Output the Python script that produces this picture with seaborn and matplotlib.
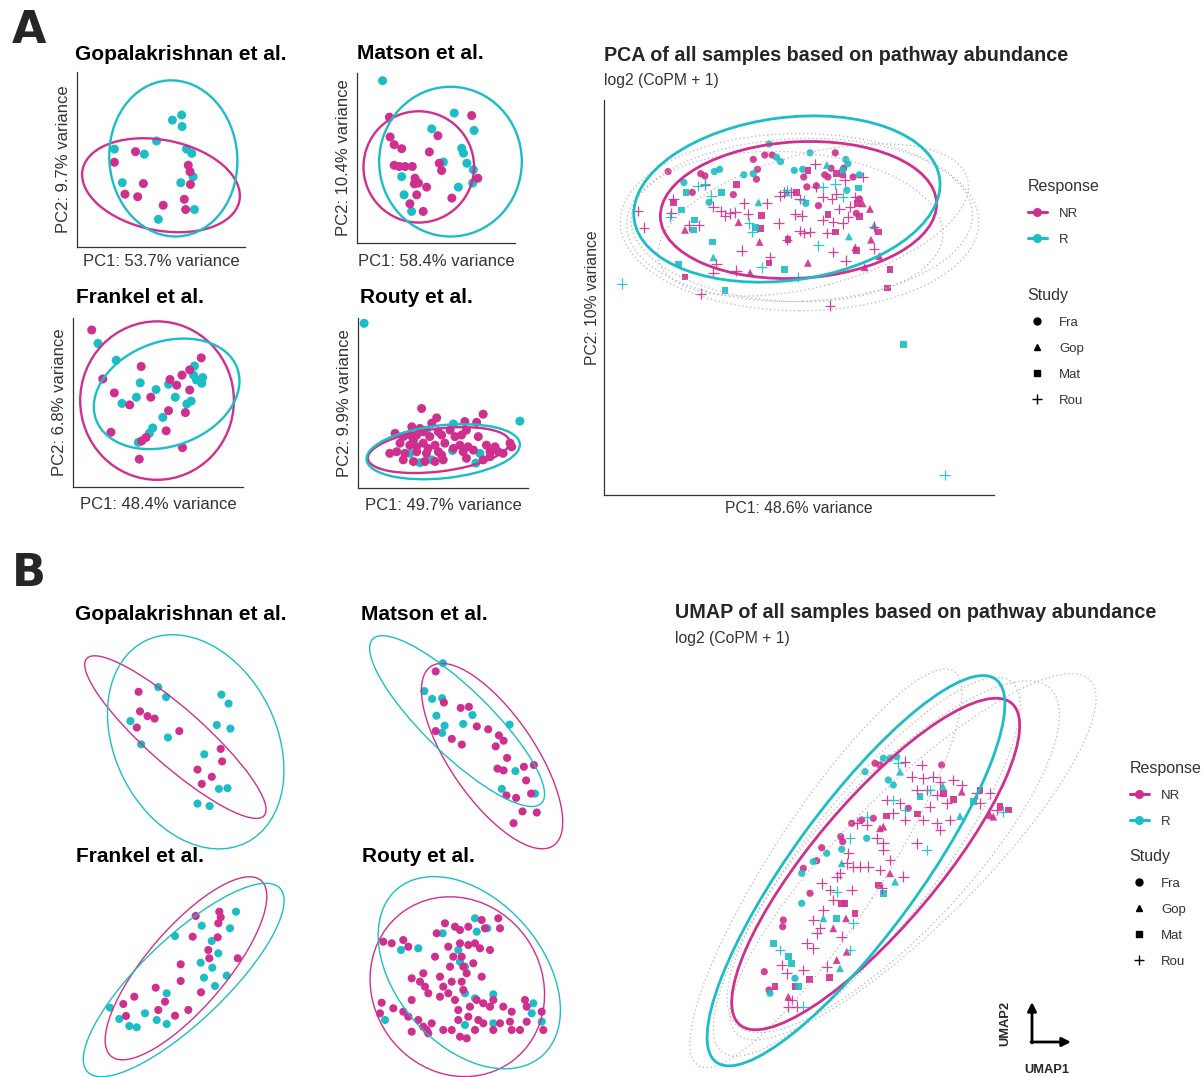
import matplotlib

matplotlib.use("Agg")
import matplotlib.pyplot as plt
import pandas as pd
import seaborn as sns
from matplotlib.lines import Line2D
from matplotlib.patches import Ellipse, FancyArrowPatch

W, H = 1204, 1077
NR_COLOR = "#CF2F8E"
R_COLOR = "#1CBDC7"
PALETTE = {"NR": NR_COLOR, "R": R_COLOR}
STUDY_MARKERS = {"Fra": "o", "Gop": "^", "Mat": "s", "Rou": "+"}
STUDY_SIZES = {"Fra": 27, "Gop": 32, "Mat": 23, "Rou": 58}
TXT = "#333333"

# ---------------------------------------------------------------- panel A data
gop_pca_nr = [(-1.15, 0.23), (-0.67, 0.48), (0.53, 0.16), (0.57, 0.01), (-0.49, -0.27),
              (0.58, -0.29), (-0.91, -0.52), (-0.62, -0.58), (-0.04, -0.78), (0.44, -0.64),
              (0.47, -0.88)]
gop_pca_r = [(0.17, 1.22), (0.38, 1.34), (0.39, 1.07), (-0.19, 0.73), (-1.15, 0.54),
             (-0.47, 0.42), (0.49, 0.54), (0.61, 0.44), (0.64, -0.11), (-0.97, -0.25),
             (0.36, -0.25), (0.67, -0.88), (-0.15, -1.11)]
gop_pca_ell = {"NR": (-0.09, -0.31, 3.64, 2.12, -12), "R": (0.19, 0.32, 2.91, 3.67, 4)}

mat_pca_nr = [(-1.19, 1.16), (1.22, 1.20), (-1.17, 0.67), (0.23, 0.70), (-1.05, 0.48),
              (-0.83, 0.38), (-0.02, 0.30), (-1.05, -0.03), (-0.90, -0.06), (-0.73, -0.06),
              (-0.52, -0.06), (0.27, 0.02), (0.34, -0.16), (-0.44, -0.35), (-0.34, -0.47),
              (-0.46, -0.49), (-0.10, -0.57), (-0.39, -0.76), (1.40, -0.35), (0.64, -0.84),
              (-0.59, -0.98), (-0.20, -1.17)]
mat_pca_r = [(-1.39, 2.06), (0.71, 1.26), (1.29, 0.83), (0.05, 0.87), (0.93, 0.39),
             (0.98, 0.27), (0.39, 0.05), (1.08, 0.02), (1.27, -0.14), (1.25, -0.47),
             (-0.83, -0.31), (0.83, -0.57), (-0.76, -0.76), (-0.54, -1.17)]
mat_pca_ell = {"NR": (-0.33, -0.07, 3.24, 2.75, 0), "R": (0.60, 0.06, 4.18, 3.70, 0)}

fra_pca_nr = [(-1.39, 1.39), (-1.16, 0.37), (-0.92, 0.08), (-0.36, 0.63), (-0.60, -0.17),
              (-0.16, -0.01), (0.24, 0.36), (0.38, 0.24), (0.49, 0.45), (0.65, 0.56),
              (0.89, 0.81), (0.65, 0.14), (0.21, -0.29), (0.56, -0.33), (-0.99, -0.74),
              (0.16, -0.71), (-0.35, -0.92), (-0.26, -0.85), (0.50, -1.06), (-0.40, -1.30)]
fra_pca_r = [(-1.26, 1.11), (-0.88, 0.76), (-0.38, 0.29), (-0.05, 0.15), (0.21, 0.26),
             (-0.76, -0.14), (-0.46, -0.01), (0.35, -0.01), (0.75, 0.64), (0.73, 0.45),
             (0.79, 0.35), (0.92, 0.40), (0.90, 0.28), (0.68, -0.09), (0.59, -0.15),
             (0.09, -0.43), (-0.12, -0.65), (-0.19, -0.76), (-0.42, -0.95)]
fra_pca_ell = {"NR": (-0.03, -0.08, 3.2, 3.3, 0), "R": (0.17, 0.06, 3.13, 2.17, 20)}

rou_pca_nr = [(-0.45, 0.92), (-0.08, 0.69), (1.06, 0.78), (0.61, 0.60), (0.90, 0.58),
              (-0.69, 0.47), (-0.49, 0.43), (-1.10, 0.31), (-0.90, 0.23), (-0.57, 0.27),
              (-0.25, 0.23), (0.04, 0.27), (0.53, 0.27), (0.37, 0.23), (-0.98, 0.07),
              (-0.74, 0.02), (-0.41, 0.07), (-0.12, 0.02), (0.12, 0.07), (0.49, 0.02),
              (0.69, -0.02), (1.14, 0.02), (1.35, -0.02), (1.72, 0.07), (1.76, -0.02),
              (-1.06, -0.14), (-0.86, -0.18), (-0.57, -0.14), (-0.33, -0.18), (-0.04, -0.14),
              (0.04, -0.22), (0.57, -0.14), (0.82, -0.10), (1.23, -0.14), (1.43, -0.14),
              (-0.90, -0.34), (-0.65, -0.38), (-0.37, -0.38), (-0.12, -0.38), (0.08, -0.34),
              (0.65, -0.30), (1.06, -0.34), (1.23, -0.26), (-0.65, 0.15), (0.25, 0.39),
              (0.65, 0.39), (-0.04, 0.35), (-0.41, 0.35), (0.33, -0.06), (-0.29, -0.06),
              (-0.57, -0.02), (1.55, -0.18), (-0.74, 0.27), (0.94, 0.23), (-1.23, -0.18),
              (-0.20, 0.56)]
rou_pca_r = [(-1.86, 3.01), (1.96, 0.61), (0.33, 0.54), (0.31, -0.11), (-0.74, -0.18),
             (-0.49, -0.41), (-0.20, -0.34), (0.88, -0.42), (0.98, -0.18), (-0.33, 0.39)]
rou_pca_ell = {"NR": (-0.03, -0.10, 3.5, 1.05, 7), "R": (0.08, -0.14, 3.78, 1.3, 6)}

# all-sample PCA, one list per study and response
pca_fra_nr = [(-1.14, 1.37), (-0.83, 1.35), (-0.79, 1.33), (-0.33, 1.48), (-0.22, 1.52),
              (-0.15, 1.52), (-0.29, 1.39), (-0.30, 1.30), (-0.52, 1.16), (-0.91, 1.18),
              (0.15, 1.32), (0.18, 1.23), (0.45, 1.54), (0.41, 1.40), (0.35, 1.34),
              (0.27, 1.24), (0.29, 1.06), (0.38, 1.32), (0.52, 1.34), (0.53, 1.40),
              (0.62, 1.32), (0.68, 1.12), (0.65, 0.99)]
pca_fra_r = [(-0.99, 1.27), (-0.65, 1.39), (-0.70, 1.37), (-0.42, 1.34), (-0.33, 1.35),
             (-0.18, 1.62), (-0.11, 1.50), (-0.07, 1.46), (0.21, 1.54), (0.06, 1.38),
             (0.14, 1.39), (0.55, 1.48), (0.57, 1.44), (0.52, 1.38), (0.68, 1.34),
             (0.17, 1.08), (-0.75, 1.09), (0.56, 1.20)]
pca_gop_nr = [(-0.98, 0.84), (-0.47, 0.91), (-0.27, 0.73), (0.79, 0.75), (0.64, 0.68),
              (0.19, 0.54), (-0.36, 0.45), (0.73, 0.50), (0.87, 0.60), (0.71, 1.08),
              (0.78, 1.03)]
pca_gop_r = [(-0.28, 1.09), (0.37, 1.43), (-0.71, 0.59), (0.58, 0.78), (0.82, 0.88),
             (-0.01, 1.18)]
pca_mat_nr = [(-0.49, 1.25), (-1.09, 1.09), (0.19, 1.38), (0.08, 1.18), (-0.25, 0.97),
              (-0.26, 0.85), (0.00, 0.75), (0.45, 0.82), (0.38, 0.98), (0.66, 1.08),
              (0.65, 0.65), (0.86, 0.82), (0.97, 0.48), (0.95, 0.31), (0.68, 0.96),
              (-0.98, 0.41), (-0.18, 0.54), (0.46, 1.35)]
pca_mat_r = [(-0.63, 1.18), (-0.97, 1.18), (-1.01, 1.02), (-0.89, 0.93), (-0.90, 0.84),
             (-0.72, 0.73), (-1.04, 0.53), (-0.60, 0.29), (-0.03, 0.48), (-0.31, 0.86),
             (0.67, 1.22), (1.10, -0.20)]
pca_rou_nr = [(-1.43, 1.01), (-1.37, 0.86), (-1.11, 0.99), (-1.09, 1.12), (-0.94, 0.88),
              (-0.85, 0.88), (-0.79, 1.25), (-0.71, 1.05), (-0.64, 1.01), (-0.55, 0.99),
              (-0.50, 1.00), (-0.42, 1.08), (-0.38, 0.98), (-0.20, 1.08), (-0.09, 0.90),
              (-0.04, 1.18), (0.03, 1.18), (0.11, 1.12), (0.07, 0.98), (0.13, 0.97),
              (0.11, 0.83), (0.21, 0.82), (0.37, 0.81), (0.43, 0.91), (0.52, 0.90),
              (0.57, 0.96), (0.49, 1.03), (0.59, 1.05), (0.46, 1.17), (0.42, 1.12),
              (0.33, 1.14), (0.26, 1.44), (-0.01, 0.75), (0.15, 0.81), (0.43, 0.64),
              (0.55, 0.56), (0.82, 0.87), (0.82, 0.67), (0.71, 1.32), (0.64, 1.14),
              (-0.68, 0.53), (-0.71, 0.45), (-0.49, 0.47), (-0.83, 0.26), (0.40, 0.15),
              (-0.44, 0.65), (-0.60, 0.97), (-0.17, 0.59), (-0.08, 1.15), (0.27, 1.23),
              (0.33, 0.93), (0.54, 1.29)]
pca_rou_r = [(-1.58, 0.35), (-1.12, 0.96), (-0.86, 1.24), (-0.79, 1.26), (-0.73, 1.15),
             (-0.37, 0.90), (-0.34, 0.82), (0.29, 0.70), (-0.01, 1.20), (0.33, 1.23),
             (0.45, 1.26), (0.52, 1.14), (0.10, 0.41), (-0.25, 0.50), (0.15, 1.11),
             (1.49, -1.39)]
pca_ell = {"NR": (0.10, 1.02, 2.63, 1.24, 3), "R": (-0.01, 1.12, 2.93, 1.48, 7)}
pca_study_ell = {"Fra": (0.11, 0.91, 3.41, 1.61, 0), "Gop": (0.11, 0.93, 3.29, 1.48, 2),
                 "Mat": (0.24, 0.93, 3.03, 1.21, 14), "Rou": (-0.01, 0.87, 2.97, 1.36, -3)}

# ---------------------------------------------------------------- panel B data
gop_umap_nr = [(6.86, 14.32), (7.0, 12.36), (7.75, 11.89), (8.46, 11.64), (6.68, 10.75),
               (10.93, 10.39), (15.07, 8.61), (15.21, 7.36), (12.75, 6.54), (14.18, 5.82),
               (13.18, 5.11)]
gop_umap_r = [(8.82, 14.79), (9.61, 13.79), (15.14, 14.04), (15.86, 13.14), (6.04, 11.39),
              (14.68, 11.0), (16.04, 10.64), (7.11, 9.07), (9.79, 9.75), (13.43, 8.07),
              (14.89, 4.61), (15.75, 4.68), (12.75, 3.14), (13.96, 2.89)]
gop_umap_ell = {"NR": (10.54, 9.79, 23.7, 5.64, -41.5), "R": (12.57, 9.32, 22.56, 16.17, -63.3)}

mat_umap_nr = [(9.07, 16.36), (9.89, 13.25), (11.57, 12.71), (12.39, 12.82), (9.07, 10.39),
               (10.68, 9.61), (11.68, 9.04), (13.18, 10.86), (14.32, 10.57), (15.39, 9.96),
               (15.86, 9.43), (15.07, 8.86), (16.21, 7.71), (15.25, 6.64), (15.86, 6.46),
               (17.89, 6.82), (18.89, 7.0), (18.11, 5.46), (18.61, 4.14), (16.14, 3.96),
               (17.11, 3.71), (17.75, 2.36), (19.18, 2.25), (16.86, 1.18)]
mat_umap_r = [(9.79, 17.18), (7.93, 14.39), (8.71, 13.61), (9.71, 13.68), (9.14, 11.93),
              (9.96, 10.93), (9.71, 10.21), (12.75, 12.0), (11.82, 11.11), (16.46, 11.04),
              (17.04, 6.39), (15.68, 4.61), (19.0, 4.14)]
mat_umap_ell = {"NR": (14.71, 7.89, 21.71, 8.5, -55.6), "R": (11.21, 11.39, 23.54, 6.61, -44.2)}

fra_umap_nr = [(12.57, 16.10), (14.93, 16.53), (15.07, 15.97), (14.83, 15.37), (14.77, 13.97),
               (12.27, 14.03), (13.83, 12.70), (13.93, 11.87), (16.77, 11.87), (11.07, 11.27),
               (11.07, 9.60), (8.57, 8.93), (6.43, 8.03), (5.33, 7.30), (5.60, 6.10),
               (9.50, 7.53), (8.83, 6.70), (10.50, 6.13), (11.83, 6.70), (13.10, 8.47)]
fra_umap_r = [(16.60, 16.53), (16.0, 14.87), (13.17, 15.13), (10.50, 14.10), (14.17, 13.60),
              (14.83, 12.37), (13.07, 11.43), (14.23, 10.93), (13.40, 9.93), (14.50, 9.10),
              (15.67, 10.13), (9.67, 8.37), (7.50, 6.37), (8.67, 5.70), (9.67, 5.30),
              (4.93, 5.80), (5.93, 5.10), (6.67, 4.97), (4.0, 6.93)]
fra_umap_ell = {"NR": (11.6, 10.87, 23.1, 7.93, 49.5), "R": (11.37, 9.7, 26.6, 8.37, 43.7)}

rou_umap_nr = [(2.83, 13.53), (3.67, 13.37), (4.83, 13.70), (5.33, 13.03), (9.0, 15.37),
               (8.17, 14.37), (10.0, 15.03), (10.5, 14.70), (11.33, 15.03), (12.67, 15.70),
               (13.0, 14.87), (14.33, 15.87), (14.5, 14.87), (8.0, 12.03), (9.33, 13.03),
               (9.83, 12.03), (10.5, 13.37), (11.33, 13.20), (12.0, 13.37), (12.5, 12.87),
               (13.5, 12.70), (9.5, 11.03), (10.83, 11.03), (11.17, 10.37), (12.67, 10.03),
               (5.67, 9.87), (6.5, 9.53), (6.83, 10.37), (7.0, 9.03), (8.5, 10.03),
               (8.83, 9.03), (9.67, 9.53), (10.67, 9.53), (10.83, 8.70), (5.67, 7.70),
               (7.33, 8.37), (8.5, 8.03), (9.33, 8.37), (10.0, 7.70), (10.33, 6.70),
               (11.5, 7.03), (12.17, 7.70), (12.83, 7.37), (13.5, 7.03), (13.83, 7.70),
               (14.83, 7.03), (15.67, 6.53), (17.0, 7.70), (17.17, 7.03), (18.67, 6.53),
               (2.67, 7.43), (3.83, 6.87), (4.83, 6.53), (2.5, 6.37), (5.33, 6.03),
               (6.33, 5.70), (7.67, 5.37), (7.17, 4.70), (5.67, 4.53), (8.83, 4.70),
               (9.67, 4.70), (10.5, 4.03), (11.17, 3.87), (12.0, 4.70), (12.33, 5.70),
               (12.83, 5.37), (13.83, 4.70), (14.5, 5.37), (15.5, 5.53), (15.67, 4.70),
               (16.5, 4.70), (17.17, 5.53), (18.83, 4.70), (11.33, 6.03), (10.33, 5.70),
               (11.83, 11.37), (10.67, 12.03), (7.33, 4.37), (6.83, 5.03)]
rou_umap_r = [(4.6, 12.7), (6.33, 12.87), (8.77, 14.37), (12.0, 15.87), (12.17, 14.53),
              (13.23, 14.87), (10.33, 12.70), (10.5, 11.53), (11.0, 11.03), (11.0, 8.37),
              (12.0, 7.87), (13.83, 8.27), (11.0, 5.20), (13.83, 5.37), (17.83, 7.37),
              (17.67, 6.37), (18.67, 5.53), (3.0, 5.70)]
rou_umap_ell = {"NR": (10.23, 9.03, 18.5, 16.9, -54.7), "R": (11.43, 10.43, 22.1, 14.6, -48.9)}

# all-sample UMAP
umap_fra_nr = [(17.5, 31.67), (18.0, 31.5), (24.17, 31.5), (16.17, 26.0), (15.17, 25.67),
               (14.07, 24.33), (14.27, 23.83), (12.17, 23.23), (11.67, 21.93), (10.33, 21.17),
               (11.0, 18.67), (8.33, 16.0), (8.27, 15.33), (6.43, 10.83), (6.9, 9.0),
               (20.83, 27.17), (17.33, 26.17)]
umap_fra_r = [(16.5, 30.83), (18.33, 32.17), (19.0, 32.17), (19.67, 32.33), (18.83, 30.0),
              (19.33, 29.5), (16.67, 24.17), (14.17, 23.07), (12.67, 22.67), (11.33, 21.83),
              (10.17, 20.67), (10.17, 17.67), (7.0, 8.67), (9.5, 10.17)]
umap_gop_nr = [(26.17, 28.83), (29.0, 26.5), (29.33, 26.33), (19.0, 20.67), (18.0, 25.17),
               (18.33, 25.33), (14.6, 16.17), (13.33, 15.17), (13.67, 12.0), (14.67, 12.83),
               (8.83, 8.33)]
umap_gop_r = [(20.0, 30.83), (24.27, 29.4), (26.0, 26.4), (19.5, 19.83), (14.17, 21.67),
              (12.33, 16.17), (14.0, 11.17)]
umap_mat_nr = [(18.67, 26.4), (21.73, 26.6), (24.33, 28.67), (25.33, 28.07), (28.0, 29.0),
               (30.83, 27.0), (30.0, 27.33), (14.17, 17.67), (14.5, 17.67), (15.5, 16.67),
               (10.93, 10.07), (12.93, 10.27), (17.83, 19.5), (7.5, 9.33), (9.5, 9.33)]
umap_mat_r = [(22.0, 28.33), (18.33, 18.67), (13.67, 16.17), (7.33, 13.67), (8.83, 12.33),
              (9.17, 11.67), (9.83, 9.33), (27.33, 27.83)]
umap_rou_nr = [(20.5, 31.83), (22.17, 31.5), (21.17, 30.33), (22.33, 30.17), (23.33, 30.33),
               (24.0, 29.83), (21.67, 29.0), (22.67, 29.0), (23.67, 28.5), (25.33, 30.0),
               (26.17, 29.5), (27.67, 28.67), (29.0, 28.67), (24.67, 27.67), (25.0, 26.0),
               (23.67, 25.67), (24.0, 25.0), (22.33, 26.0), (23.0, 27.33), (20.0, 27.67),
               (19.33, 26.67), (18.67, 28.0), (16.67, 25.5), (15.67, 25.67), (14.83, 22.67),
               (14.67, 21.67), (15.33, 21.33), (16.0, 21.33), (16.83, 21.33), (14.0, 20.67),
               (18.0, 21.0), (19.0, 22.0), (18.33, 23.0), (18.33, 23.67), (20.33, 20.33),
               (18.17, 19.17), (13.67, 20.33), (12.17, 19.67), (13.0, 19.0), (13.33, 18.0),
               (15.17, 19.0), (12.33, 17.0), (11.33, 16.0), (12.0, 15.17), (11.67, 14.67),
               (10.67, 13.67), (11.33, 13.17), (14.17, 14.33), (12.67, 11.33), (8.17, 11.5),
               (8.67, 10.67), (10.33, 11.0), (8.83, 7.33), (9.67, 7.33), (9.17, 8.0),
               (21.67, 23.67), (17.67, 24.17), (20.5, 26.0), (28.0, 27.67), (29.67, 27.0)]
umap_rou_r = [(19.83, 31.67), (16.67, 26.33), (19.33, 28.0), (22.67, 23.0), (15.0, 24.17),
              (13.67, 18.83), (15.33, 15.67), (15.0, 13.0), (10.33, 7.33), (30.33, 26.83),
              (20.5, 27.0), (8.0, 13.0), (23.0, 29.0)]
umap_ell = {"NR": (17.57, 21.6, 42.1, 12.5, 49.8), "R": (15.6, 20.93, 47.4, 12.8, 53.9)}
umap_study_ell = {"Fra": (12.6, 21.17, 47.0, 11.0, 57), "Gop": (21.3, 22.33, 50.0, 13.5, 45),
                  "Mat": (16.67, 21.33, 47.0, 13.0, 52), "Rou": (19.33, 22.33, 46.0, 15.0, 47)}


def to_frame(groups):
    rows = []
    for pts, resp, study in groups:
        for x, y in pts:
            rows.append({"x": x, "y": y, "Response": resp, "Study": study})
    return pd.DataFrame(rows)


def box(x0, y0, x1, y1):
    return [x0 / W, 1 - y1 / H, (x1 - x0) / W, (y1 - y0) / H]


def add_ellipses(ax, params, lw, colors=None, ls="-"):
    for key, (cx, cy, w, h, ang) in params.items():
        color = colors if colors else PALETTE[key]
        ax.add_patch(Ellipse((cx, cy), w, h, angle=ang, fill=False, ec=color,
                             lw=lw, ls=ls, zorder=3, clip_on=False))


def small_panel(ax, nr, r, ell, size, lw, xlim, ylim):
    df = to_frame([(r, "R", None), (nr, "NR", None)])
    sns.scatterplot(data=df, x="x", y="y", hue="Response", palette=PALETTE, s=size,
                    linewidth=0, legend=False, ax=ax, zorder=2, clip_on=False)
    add_ellipses(ax, ell, lw)
    ax.set_xlim(xlim)
    ax.set_ylim(ylim)


def big_panel(ax, groups, ell, study_ell, lw):
    df = to_frame(groups)
    add_ellipses(ax, study_ell, 0.9, colors="#b5b5b5", ls=(0, (1, 2.2)))
    for study, marker in STUDY_MARKERS.items():
        sub = df[df["Study"] == study]
        lwd = 0.9 if marker == "+" else 0
        sns.scatterplot(data=sub, x="x", y="y", hue="Response", palette=PALETTE,
                        marker=marker, s=STUDY_SIZES[study], linewidth=lwd, alpha=0.9,
                        legend=False, ax=ax, zorder=2, clip_on=False)
    add_ellipses(ax, ell, lw)


def pca_axes(ax, xticks, yticks, xlabel, ylabel, fs, ypad=4, xpad=1):
    ax.set_xticks(xticks)
    ax.set_yticks(yticks)
    ax.tick_params(labelbottom=False, labelleft=False, length=4, width=0.9,
                   color=TXT, direction="out")
    sns.despine(ax=ax)
    for side in ["left", "bottom"]:
        ax.spines[side].set_color(TXT)
        ax.spines[side].set_linewidth(0.9)
    ax.set_xlabel(xlabel, fontsize=fs, color=TXT, labelpad=xpad)
    ax.set_ylabel(ylabel, fontsize=fs, color=TXT, labelpad=ypad)
    ax.grid(False)


def add_legends(fig, x, y_resp, y_study):
    resp_handles = [Line2D([], [], color=PALETTE[k], lw=2.2, marker="o", markersize=5.5)
                    for k in ["NR", "R"]]
    study_handles = [Line2D([], [], color="black", ls="", marker=m,
                            markersize=7 if m == "+" else 5, markeredgewidth=1.0)
                     for m in STUDY_MARKERS.values()]
    common = dict(loc="upper left", frameon=False, alignment="left", fontsize=9.5,
                  title_fontsize=11.5, borderpad=0, handlelength=1.5, handletextpad=0.9,
                  labelspacing=1.05, labelcolor=TXT)
    leg1 = fig.legend(resp_handles, ["NR", "R"], title="Response",
                      bbox_to_anchor=(x / W, 1 - y_resp / H), **common)
    leg1.get_title().set_color(TXT)
    leg2 = fig.legend(study_handles, list(STUDY_MARKERS), title="Study",
                      bbox_to_anchor=(x / W, 1 - y_study / H), **common)
    leg2.get_title().set_color(TXT)


sns.set_theme(style="white")
plt.rcParams["font.family"] = ["Liberation Sans", "DejaVu Sans"]

fig = plt.figure(figsize=(W / 100, H / 100), dpi=100)
narrow = ["Liberation Sans Narrow", "DejaVu Sans"]
fig.text(12 / W, 1 - 43 / H, "A", fontsize=32, fontweight="bold", family=narrow, va="baseline")
fig.text(12 / W, 1 - 586 / H, "B", fontsize=32, fontweight="bold", family=narrow, va="baseline")

title_kw = dict(fontsize=15, fontweight="bold", va="baseline", color="black")

# --- panel A small PCA plots
ax = fig.add_axes(box(77, 72, 245, 247))
small_panel(ax, gop_pca_nr, gop_pca_r, gop_pca_ell, 42, 1.7, (-2.0, 1.82), (-1.76, 2.35))
pca_axes(ax, [-1, 0, 1], [-1, 0, 1, 2], "PC1: 53.7% variance", "PC2: 9.7% variance", 12,
         xpad=5)
fig.text(75 / W, 1 - 60 / H, "Gopalakrishnan et al.", **title_kw)

ax = fig.add_axes(box(357, 73, 515, 243))
small_panel(ax, mat_pca_nr, mat_pca_r, mat_pca_ell, 42, 1.7, (-2.14, 2.49), (-1.95, 2.25))
pca_axes(ax, [-1, 0, 1, 2], [-1, 0, 1, 2], "PC1: 58.4% variance", "PC2: 10.4% variance", 12,
         xpad=8)
fig.text(357 / W, 1 - 59 / H, "Matson et al.", **title_kw)

ax = fig.add_axes(box(73, 318, 243, 487))
small_panel(ax, fra_pca_nr, fra_pca_r, fra_pca_ell, 42, 1.7, (-1.78, 1.76), (-1.88, 1.64))
pca_axes(ax, [-1, 0, 1], [-1.25, -0.625, 0, 0.625, 1.25], "PC1: 48.4% variance",
         "PC2: 6.8% variance", 12, xpad=7)
fig.text(76 / W, 1 - 303 / H, "Frankel et al.", **title_kw)

ax = fig.add_axes(box(358, 318, 528, 488))
small_panel(ax, rou_pca_nr, rou_pca_r, rou_pca_ell, 42, 1.7, (-2.01, 2.16), (-1.03, 3.14))
pca_axes(ax, [-1, 0, 1, 2], [0, 1.1, 2.2], "PC1: 49.7% variance", "PC2: 9.9% variance", 12,
         xpad=7)
fig.text(360 / W, 1 - 303 / H, "Routy et al.", **title_kw)

# --- panel A all-sample PCA
ax = fig.add_axes(box(604, 100, 994, 495))
big_panel(ax, [(pca_fra_nr, "NR", "Fra"), (pca_fra_r, "R", "Fra"),
               (pca_gop_nr, "NR", "Gop"), (pca_gop_r, "R", "Gop"),
               (pca_mat_nr, "NR", "Mat"), (pca_mat_r, "R", "Mat"),
               (pca_rou_nr, "NR", "Rou"), (pca_rou_r, "R", "Rou")],
          pca_ell, pca_study_ell, 2.0)
ax.set_xlim(-1.75, 1.96)
ax.set_ylim(-1.57, 2.02)
pca_axes(ax, [-0.99, 0.03, 1.04], [-1.03, -0.02, 1.0, 2.01], "PC1: 48.6% variance",
         "PC2: 10% variance", 11.3, ypad=3, xpad=4)
fig.text(604 / W, 1 - 61 / H, "PCA of all samples based on pathway abundance",
         fontsize=14.2, fontweight="bold", va="baseline")
fig.text(604 / W, 1 - 85 / H, "log2 (CoPM + 1)", fontsize=11.3, color=TXT, va="baseline")
add_legends(fig, 1021, 172, 281)

# --- panel B small UMAP plots
umap_small = [
    (box(70, 615, 290, 860), gop_umap_nr, gop_umap_r, gop_umap_ell, (0, 22), (-2.5, 22),
     "Gopalakrishnan et al.", 75, 620),
    (box(345, 615, 570, 860), mat_umap_nr, mat_umap_r, mat_umap_ell, (0, 22.5), (-2.5, 22),
     "Matson et al.", 361, 620),
    (box(70, 870, 290, 1077), fra_umap_nr, fra_umap_r, fra_umap_ell, (0, 22), (0, 20.7),
     "Frankel et al.", 76, 862),
    (box(355, 870, 575, 1077), rou_umap_nr, rou_umap_r, rou_umap_ell, (0, 22), (0, 20.7),
     "Routy et al.", 362, 862),
]
for rect, nr, r, ell, xl, yl, title, tx, ty in umap_small:
    ax = fig.add_axes(rect)
    small_panel(ax, nr, r, ell, 34, 1.0, xl, yl)
    ax.set_axis_off()
    fig.text(tx / W, 1 - ty / H, title, **title_kw)

# --- panel B all-sample UMAP
ax = fig.add_axes(box(690, 640, 1110, 1077))
big_panel(ax, [(umap_fra_nr, "NR", "Fra"), (umap_fra_r, "R", "Fra"),
               (umap_gop_nr, "NR", "Gop"), (umap_gop_r, "R", "Gop"),
               (umap_mat_nr, "NR", "Mat"), (umap_mat_r, "R", "Mat"),
               (umap_rou_nr, "NR", "Rou"), (umap_rou_r, "R", "Rou")],
          umap_ell, umap_study_ell, 2.0)
ax.set_xlim(-1, 41)
ax.set_ylim(0.3, 44)
ax.set_axis_off()
fig.text(675 / W, 1 - 618 / H, "UMAP of all samples based on pathway abundance",
         fontsize=14.2, fontweight="bold", va="baseline")
fig.text(675 / W, 1 - 643 / H, "log2 (CoPM + 1)", fontsize=11.3, color=TXT, va="baseline")
add_legends(fig, 1123, 754, 842)

# UMAP direction arrows
arrow = dict(arrowstyle="-|>", color="black", lw=2, mutation_scale=13, shrinkA=0, shrinkB=0)
fig.add_artist(FancyArrowPatch((1032 / W, 1 - 1043 / H), (1032 / W, 1 - 1002 / H),
                               transform=fig.transFigure, **arrow))
fig.add_artist(FancyArrowPatch((1031 / W, 1 - 1042 / H), (1071 / W, 1 - 1042 / H),
                               transform=fig.transFigure, **arrow))
fig.text(1005 / W, 1 - 1023 / H, "UMAP2", rotation=90, fontsize=9.3, fontweight="bold",
         ha="center", va="center")
fig.text(1047 / W, 1 - 1070 / H, "UMAP1", fontsize=9.3, fontweight="bold",
         ha="center", va="center")

fig.savefig("out.png", dpi=100)
